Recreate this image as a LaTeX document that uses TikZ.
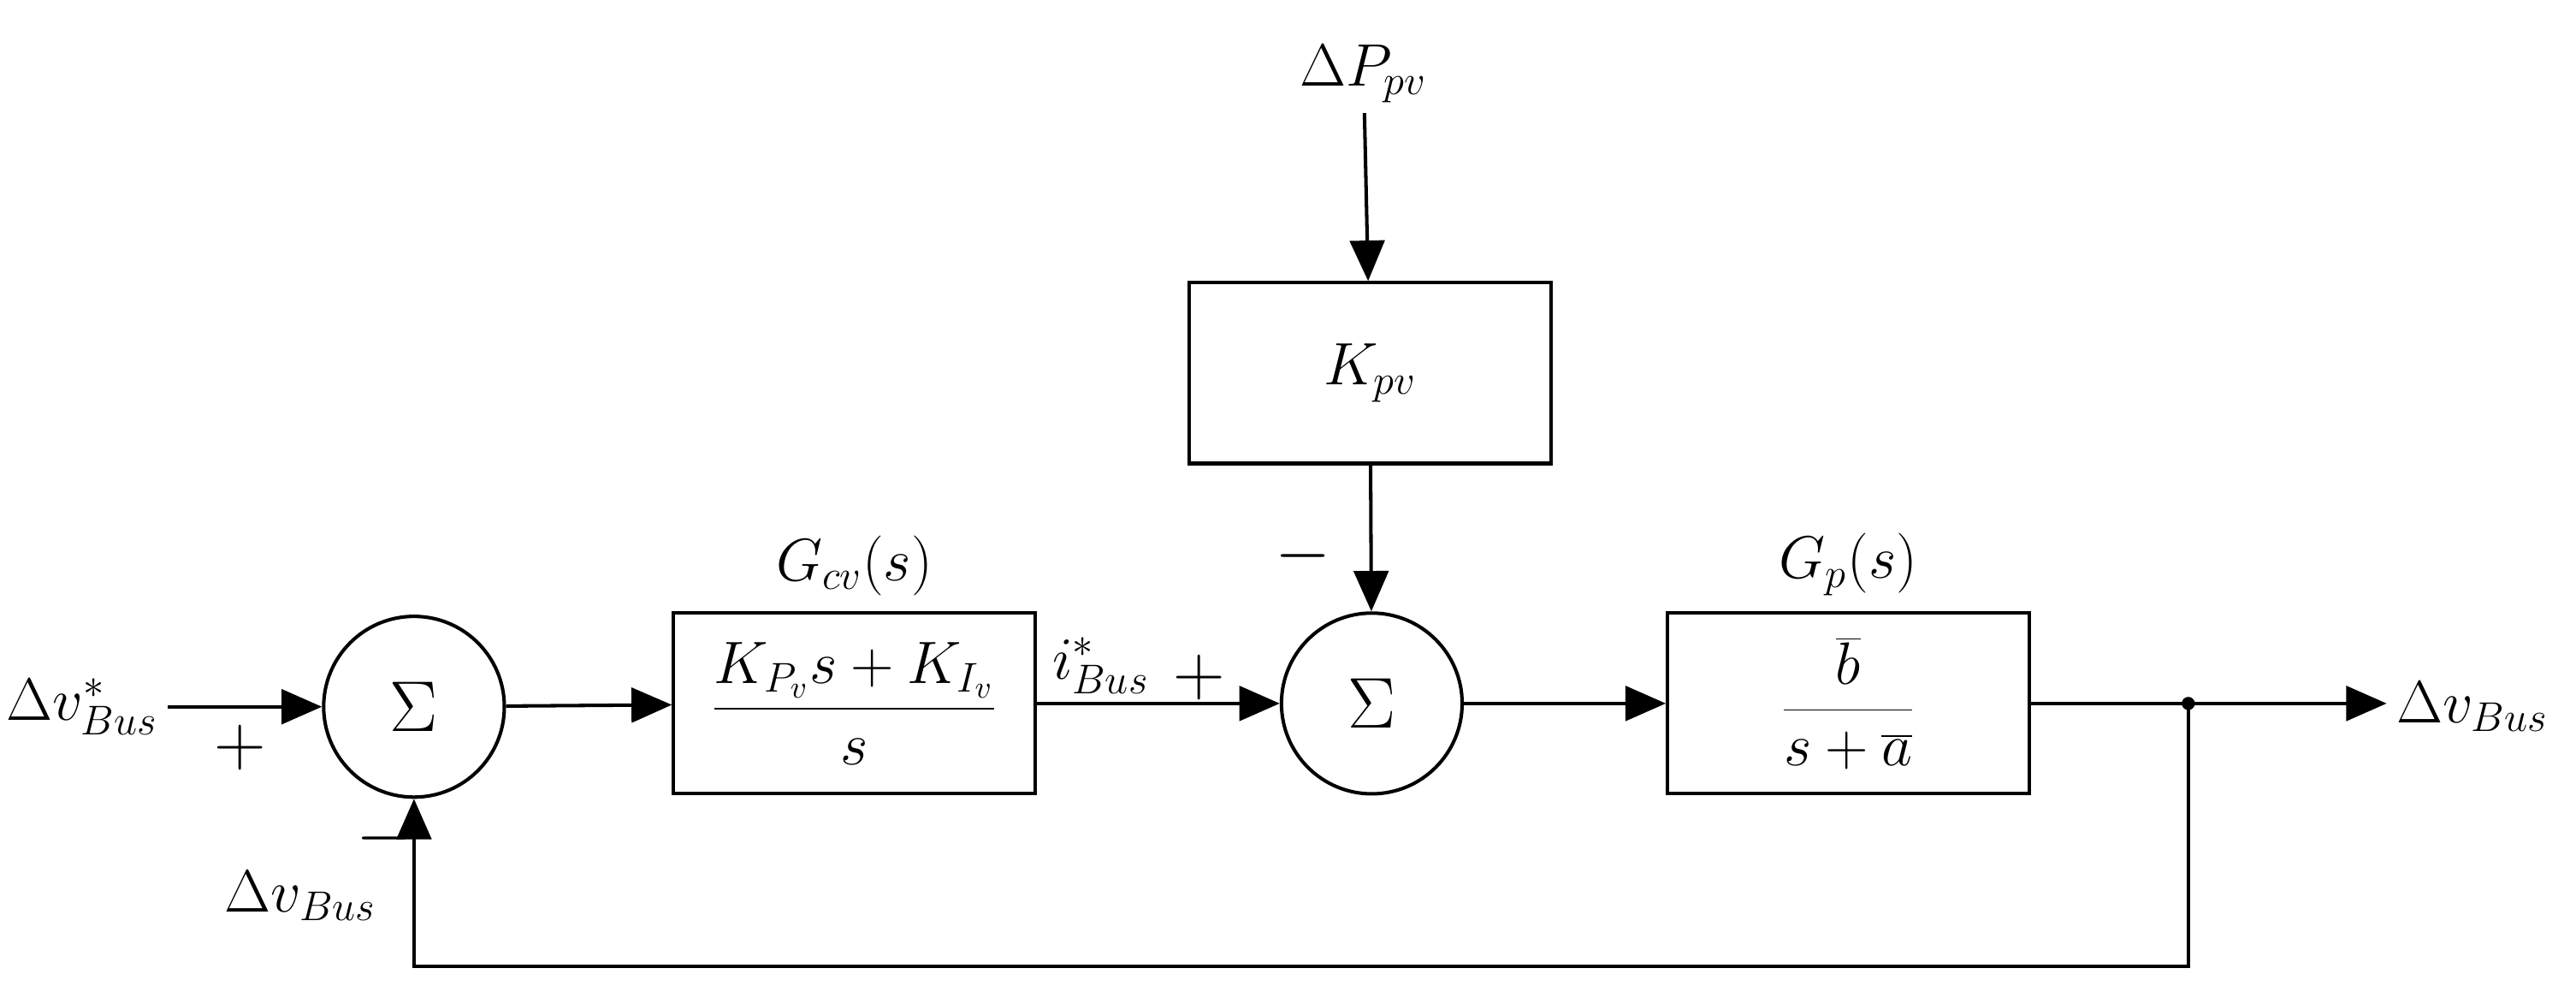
\documentclass[tikz,border=0pt]{standalone}
\usepackage{fontspec}
\setmainfont{Liberation Serif}
\usetikzlibrary{arrows.meta}
\usetikzlibrary{positioning}

\begin{document}
\begin{tikzpicture}
[x=0.02cm, y=-0.02cm,
every node/.style = {font=\fontsize{22}{26}\selectfont},
block/.style  = {rectangle, draw, line width=1.2pt, minimum width=4.4cm, minimum height=2.2cm},
sum/.style    = {circle, draw, line width=1.2pt, minimum size=2.2cm, inner sep=0pt},
line/.style   = {draw, line width=1.2pt, -{Triangle[length=14pt,width=12pt]}},
sign/.style   = {font=\fontsize{24}{26}\selectfont}
]
\useasboundingbox (0,0) rectangle (1568,607);

% forward path
\node [sum] (sum_v) at (252,430) {\fontsize{40}{44}\selectfont$\Sigma$};
\node [block] (gcv) at (520,428) {$\displaystyle\frac{K_{P_v}s+K_{I_v}}{s}$};
\node [sum] (sum_i) at (835,428) {\fontsize{40}{44}\selectfont$\Sigma$};
\node [block] (kpv) at (834,227) {$K_{pv}$};
\node [block] (gp) at (1125,428) {$\displaystyle\frac{\overline{b}}{s+\overline{a}}$};

% labels
\node [above=2pt of gcv] (gcv_lbl) {$G_{cv}(s)$};
\node [above=2pt of gp] (gp_lbl) {$G_p(s)$};
\node (dp) at (830,45) {$\Delta P_{pv}$};
\node (vref) at (50,430) {$\Delta v^{*}_{Bus}$};
\node (vout) at (1505,430) {$\Delta v_{Bus}$};
\node (vfb) at (183,545) {$\Delta v_{Bus}$};
\node (iref) at (670,405) {$i^{*}_{Bus}$};
\node [sign] (p1) at (146,455) {$+$};
\node [sign] (m1) at (234,510) {$-$};
\node [sign] (p2) at (730,412) {$+$};
\node [sign] (m2) at (793,338) {$-$};

\coordinate (tap) at (1332,428);
\coordinate (fb) at (1332,588);

\begin{scope}[every path/.style=line]
\path (vref.east |- sum_v) -- (sum_v);
\path (sum_v) -- (gcv);
\path (gcv) -- (sum_i);
\path (dp) -- (kpv);
\path (kpv) -- (sum_i);
\path (sum_i) -- (gp);
\path (gp) -- (vout.west |- gp);
\path (tap) -- (fb) -| (sum_v);
\end{scope}
\fill (tap) circle (4);
\end{tikzpicture}
\end{document}
